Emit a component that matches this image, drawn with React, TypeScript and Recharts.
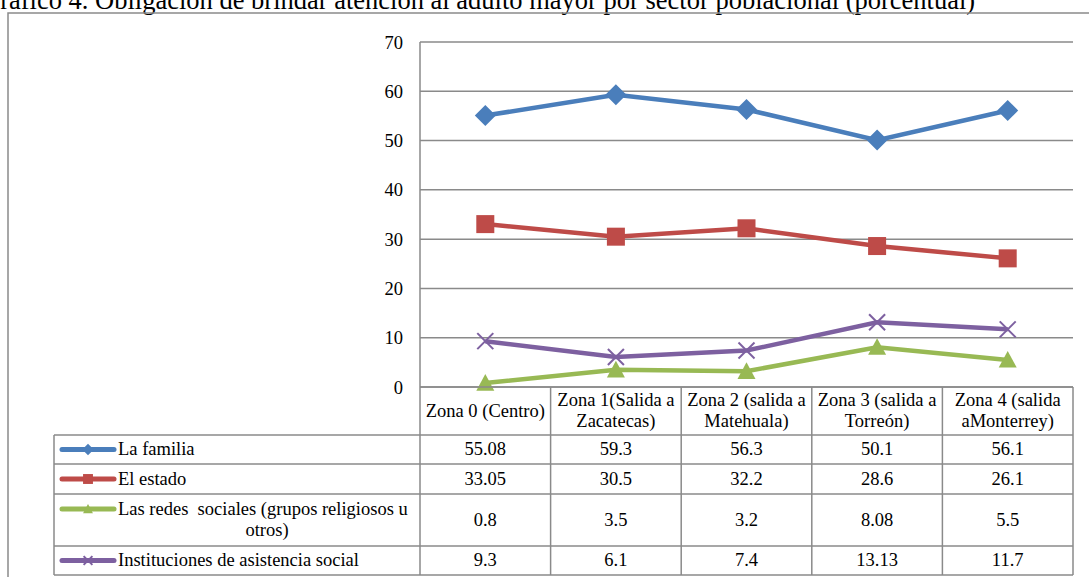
import React from "react";
import { LineChart, Line, XAxis, YAxis, CartesianGrid } from "recharts";

const title = "Gráfico 4. Obligación de brindar atención al adulto mayor por sector poblacional (porcentual)";
const categories = [
  "Zona 0 (Centro)",
  "Zona 1(Salida a Zacatecas)",
  "Zona 2 (salida a Matehuala)",
  "Zona 3 (salida a Torreón)",
  "Zona 4 (salida aMonterrey)",
];
const familia = [55.08, 59.3, 56.3, 50.1, 56.1];
const estado = [33.05, 30.5, 32.2, 28.6, 26.1];
const redes = [0.8, 3.5, 3.2, 8.08, 5.5];
const instituciones = [9.3, 6.1, 7.4, 13.13, 11.7];
const seriesNames = [
  "La familia",
  "El estado",
  "Las redes  sociales (grupos religiosos u otros)",
  "Instituciones de asistencia social",
];
const yTicks = [0, 10, 20, 30, 40, 50, 60, 70];

const COLORS = ["#4A7EBB", "#BE4B48", "#98B954", "#7D60A0"];
const KEYS = ["familia", "estado", "redes", "instituciones"];
const VALUES = [familia, estado, redes, instituciones];

const data = categories.map((c, i) => ({
  name: c,
  familia: familia[i],
  estado: estado[i],
  redes: redes[i],
  instituciones: instituciones[i],
}));

const W = 1089;
const H = 577;
const PLOT_L = 420;
const PLOT_R = 1073;
const PLOT_T = 42;
const PLOT_B = 387;
const COL_W = (PLOT_R - PLOT_L) / categories.length;
const TABLE_L = 54;
const HEADER_B = 435;
const ROW_B = [464, 494, 546, 575];
const FONT = "'Liberation Serif', 'Times New Roman', serif";
const FS = 18.5;
const GRID = "#8a8a8a";

function Marker({ kind, cx, cy, color, s = 1 }: any) {
  if (kind === 0) {
    const r = 10.5 * s;
    return <polygon points={`${cx},${cy - r} ${cx + r},${cy} ${cx},${cy + r} ${cx - r},${cy}`} fill={color} />;
  }
  if (kind === 1) {
    const r = 9 * s;
    return <rect x={cx - r} y={cy - r} width={2 * r} height={2 * r} fill={color} />;
  }
  if (kind === 2) {
    const r = 9 * s;
    return <polygon points={`${cx},${cy - r} ${cx + r},${cy + r * 0.85} ${cx - r},${cy + r * 0.85}`} fill={color} />;
  }
  const r = 8 * s;
  return (
    <g stroke={color} strokeWidth={2}>
      <line x1={cx - r} y1={cy - r} x2={cx + r} y2={cy + r} />
      <line x1={cx - r} y1={cy + r} x2={cx + r} y2={cy - r} />
    </g>
  );
}

export default function App() {
  const rowTops = [HEADER_B, ...ROW_B.slice(0, 3)];
  return (
    <div style={{ position: "absolute", left: 0, top: 0, width: W, height: H, overflow: "hidden", background: "#fff", fontFamily: FONT }}>
      <div style={{ position: "absolute", left: -19, top: -15, fontSize: 26.5, whiteSpace: "nowrap", color: "#000" }}>{title}</div>
      <svg style={{ position: "absolute", left: 0, top: 0 }} width={W} height={H}>
        <rect x={8} y={13} width={W + 20} height={H + 20} fill="none" stroke="#8a8a8a" strokeWidth={1.5} />
      </svg>
      <div style={{ position: "absolute", left: 0, top: 0 }}>
        <LineChart width={W} height={H} data={data} margin={{ top: PLOT_T, right: W - PLOT_R, bottom: H - PLOT_B, left: PLOT_L - 60 }}>
          <CartesianGrid horizontal vertical={false} stroke={GRID} strokeWidth={1.5} />
          <XAxis dataKey="name" hide padding={{ left: COL_W / 2, right: COL_W / 2 }} />
          <YAxis
            width={60}
            domain={[0, 70]}
            ticks={yTicks}
            tickLine={false}
            tickSize={0}
            tickMargin={17}
            axisLine={{ stroke: GRID, strokeWidth: 1.5 }}
            tick={{ fill: "#000", fontSize: FS, fontFamily: FONT }}
          />
          {KEYS.map((k, si) => (
            <Line
              key={k}
              dataKey={k}
              stroke={COLORS[si]}
              strokeWidth={4.5}
              isAnimationActive={false}
              dot={(p: any) => <Marker key={`${k}-${p.index}`} kind={si} cx={p.cx} cy={p.cy} color={COLORS[si]} />}
              activeDot={false}
            />
          ))}
        </LineChart>
      </div>
      <svg style={{ position: "absolute", left: 0, top: 0 }} width={W} height={H}>
        <g stroke={GRID} strokeWidth={1.5}>
          <line x1={PLOT_L} y1={PLOT_B} x2={PLOT_R} y2={PLOT_B} />
          <line x1={TABLE_L} y1={HEADER_B} x2={PLOT_R} y2={HEADER_B} />
          {ROW_B.map((y) => (
            <line key={y} x1={TABLE_L} y1={y} x2={PLOT_R} y2={y} />
          ))}
          <line x1={TABLE_L} y1={HEADER_B} x2={TABLE_L} y2={ROW_B[3]} />
          {categories.map((_, i) => (
            <line key={i} x1={PLOT_L + COL_W * i} y1={PLOT_B} x2={PLOT_L + COL_W * i} y2={ROW_B[3]} />
          ))}
          <line x1={PLOT_R} y1={PLOT_B} x2={PLOT_R} y2={ROW_B[3]} />
        </g>
        {seriesNames.map((_, si) => {
          const cy = (rowTops[si] + ROW_B[si]) / 2;
          const legendY = si === 2 ? rowTops[si] + 15 : cy;
          return (
            <g key={si}>
              <line x1={62} y1={legendY} x2={114} y2={legendY} stroke={COLORS[si]} strokeWidth={5} strokeLinecap="round" />
              <Marker kind={si} cx={88} cy={legendY} color={COLORS[si]} s={0.55} />
            </g>
          );
        })}
      </svg>
      {categories.map((c, i) => (
        <div
          key={c}
          style={{
            position: "absolute",
            left: PLOT_L + COL_W * i,
            top: PLOT_B,
            width: COL_W,
            height: HEADER_B - PLOT_B,
            display: "flex",
            alignItems: "center",
            justifyContent: "center",
            textAlign: "center",
            fontSize: FS,
            lineHeight: "21px",
            padding: "0 2px",
            boxSizing: "border-box",
          }}
        >
          {c}
        </div>
      ))}
      {seriesNames.map((n, si) => (
        <React.Fragment key={n}>
          <div
            style={{
              position: "absolute",
              left: 118,
              top: rowTops[si],
              width: PLOT_L - 118 - 4,
              height: ROW_B[si] - rowTops[si],
              display: "flex",
              alignItems: "center",
              fontSize: FS,
              lineHeight: "21px",
            }}
          >
            <span style={{ display: "inline-block", textAlign: "left", textAlignLast: "center", whiteSpace: "pre-wrap" }}>{n}</span>
          </div>
          {VALUES[si].map((v, i) => (
            <div
              key={i}
              style={{
                position: "absolute",
                left: PLOT_L + COL_W * i,
                top: rowTops[si],
                width: COL_W,
                height: ROW_B[si] - rowTops[si],
                display: "flex",
                alignItems: "center",
                justifyContent: "center",
                fontSize: FS,
              }}
            >
              {String(v)}
            </div>
          ))}
        </React.Fragment>
      ))}
    </div>
  );
}
